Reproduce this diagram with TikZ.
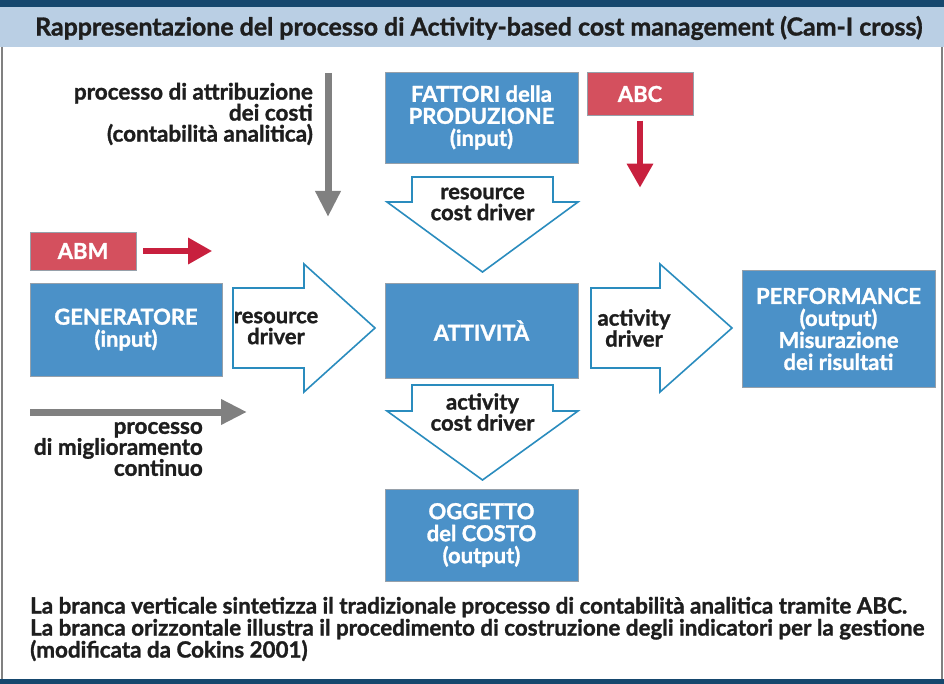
\documentclass[tikz,border=0pt]{standalone}
\usepackage{fontspec}
\setmainfont{Lato}[BoldFont={Lato Bold},BoldFeatures={FakeBold=1.3}]
\usepackage{xcolor}
\usetikzlibrary{arrows.meta,positioning}

\definecolor{boxblue}{RGB}{75,145,200}
\definecolor{boxedge}{RGB}{150,160,170}
\definecolor{redbox}{RGB}{212,80,94}
\definecolor{redarrow}{RGB}{200,32,62}
\definecolor{outline}{RGB}{42,140,190}
\definecolor{grayarrow}{RGB}{128,128,128}
\definecolor{band}{RGB}{186,207,228}
\definecolor{topbar}{RGB}{22,72,110}
\definecolor{ink}{RGB}{30,30,30}

\begin{document}
\begin{tikzpicture}[x=1pt,y=-1pt,
    bluebox/.style={draw=boxedge,fill=boxblue,text=white,align=center,inner sep=0pt,
        font=\bfseries\fontsize{22}{22}\selectfont},
    redlabel/.style={draw=boxedge,fill=redbox,text=white,inner sep=0pt,
        font=\bfseries\fontsize{22}{22}\selectfont},
    hollow/.style={draw=outline,line width=1.6pt,fill=white,line join=miter},
    drvtext/.style={text=ink,align=center,inner sep=0pt,font=\bfseries\fontsize{22}{21}\selectfont},
    sidetext/.style={text=ink,inner sep=0pt,font=\bfseries\fontsize{22.5}{21}\selectfont},
    redarr/.style={draw=redarrow,line width=6pt,-{Triangle[length=24pt,width=25pt]}},
    grayarr/.style={draw=grayarrow,line width=7pt,-{Triangle[length=26pt,width=24pt]}}
]
\useasboundingbox (0,0) rectangle (944,684);

% header and frame
\fill[topbar] (0,0) rectangle (944,7);
\fill[band] (0,7) rectangle (944,47);
\draw[gray,line width=1.5pt] (2,47) -- (2,679) (942,47) -- (942,679);
\fill[topbar] (0,679) rectangle (944,684);
\node[anchor=west,inner sep=0pt,text=ink,font=\bfseries\fontsize{24.9}{24}\selectfont] (title) at (35,28)
    {Rappresentazione del processo di Activity-based cost management (Cam-I cross)};

% blue blocks
\node[bluebox,minimum width=193,minimum height=91] (fattori) at (481.5,117.5) {FATTORI della\\PRODUZIONE\\(input)};
\node[bluebox,minimum width=192,minimum height=93] (generatore) at (126,329.5) {GENERATORE\\(input)};
\node[bluebox,minimum width=193,minimum height=95] (attivita) at (481.5,330.5) {ATTIVITÀ};
\node[bluebox,minimum width=193,minimum height=117] (performance) at (838.5,329) {PERFORMANCE\\(output)\\Misurazione\\dei risultati};
\node[bluebox,minimum width=193,minimum height=92] (oggetto) at (481.5,535) {OGGETTO\\del COSTO\\(output)};

% red labels
\node[redlabel,minimum width=106,minimum height=43] (abc) at (640,94) {ABC};
\node[redlabel,minimum width=106,minimum height=38] (abm) at (83,251) {ABM};
\draw[redarr] ([yshift=-5pt]abc.south) -- ++(0,67);
\draw[redarr] ([xshift=7pt]abm.east) -- ++(69,0);

% drivers
\draw[hollow] (412,177) -- (553,177) -- (553,202) -- (578,202) -- (482.5,272) -- (387,202) -- (412,202) -- cycle;
\node[drvtext] (rcd) at (482.5,204) {resource\\cost driver};
\draw[hollow] (233,288) -- (304,288) -- (304,264) -- (375,328) -- (304,392) -- (304,368) -- (233,368) -- cycle;
\node[drvtext] (rd) at (276,328) {resource\\driver};
\draw[hollow] (591,288) -- (660,288) -- (660,264) -- (732,328) -- (660,392) -- (660,368) -- (591,368) -- cycle;
\node[drvtext] (ad) at (634,328) {activity\\driver};
\draw[hollow] (412,385) -- (553,385) -- (553,411) -- (578,411) -- (482.5,480) -- (387,411) -- (412,411) -- cycle;
\node[drvtext] (acd) at (482.5,412) {activity\\cost driver};

% the two process arrows
\coordinate (vtop) at (328,73);
\coordinate (vend) at (328,217);
\coordinate (hbeg) at (30,412);
\coordinate (hend) at (247,412);
\draw[grayarr] (vtop) -- (vend);
\draw[grayarr] (hbeg) -- (hend);
\node[sidetext,align=right,anchor=east] (attrib) at (313,114) {processo di attribuzione\\dei costi\\(contabilità analitica)};
\node[sidetext,align=right,anchor=east] (miglior) at (203,449) {processo\\di miglioramento\\continuo};

% note
\node[anchor=west,align=left,inner sep=0pt,text=ink,font=\bfseries\fontsize{22.4}{22}\selectfont] (nota) at (30,629)
    {La branca verticale sintetizza il tradizionale processo di contabilità analitica tramite ABC.\\
     La branca orizzontale illustra il procedimento di costruzione degli indicatori per la gestione\\
     (modificata da Cokins 2001)};
\end{tikzpicture}
\end{document}
